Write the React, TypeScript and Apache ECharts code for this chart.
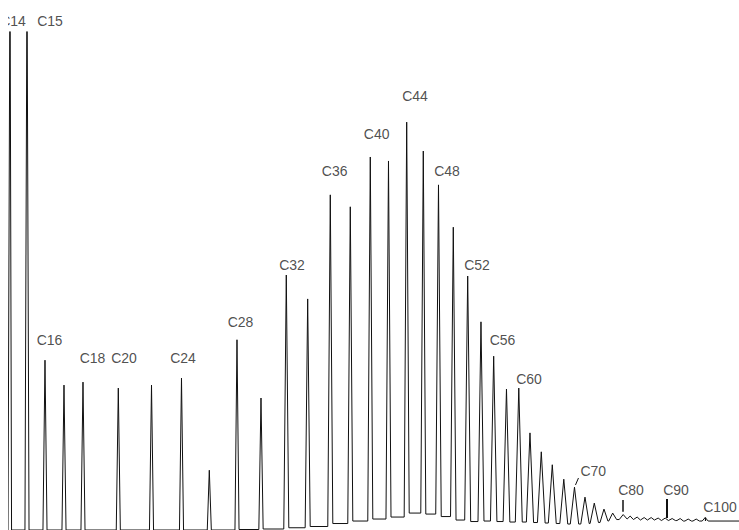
import React, { useEffect, useRef } from "react";
import * as echarts from "echarts";

// Retention time (min), detector signal (arbitrary units) for each peak apex
const peakNames = [
  "C14", "C15", "C16", "C17", "C18", "C20", "C22", "C24", "C26", "C28",
  "C30", "C32", "C34", "C36", "C38", "C40", "C42", "C44", "C46", "C48",
  "C50", "C52", "C54", "C56", "C58", "C60", "C62", "C64", "C66", "C68",
  "C70", "C72", "C74", "C76", "C78", "C80",
  "C82", "C84", "C86", "C88", "C90", "C92", "C94", "C96", "C98", "C99", "C100",
];
const peakTimes = [
  0.167, 1.585, 3.087, 4.673, 6.258, 9.204, 11.975, 14.478, 16.798, 19.109,
  21.112, 23.223, 25.008, 26.894, 28.563, 30.232, 31.751, 33.27, 34.655, 35.923,
  37.158, 38.36, 39.469, 40.529, 41.597, 42.624, 43.558, 44.501, 45.419, 46.379,
  47.272, 48.148, 48.924, 49.733, 50.459, 51.335,
  51.919, 52.503, 53.088, 53.672, 54.256, 54.84, 55.424, 56.092, 56.759, 57.427, 58.178,
];
const peakHeights = [
  115, 112, 34.1, 29.1, 29.7, 28.5, 29.1, 30.5, 12.0, 38.2,
  26.5, 51.2, 46.4, 67.3, 64.9, 74.9, 74.1, 81.9, 76.1, 69.3,
  60.8, 51.0, 41.8, 34.9, 28.3, 28.5, 19.5, 15.7, 13.1, 10.2,
  8.6, 6.6, 5.4, 4.2, 3.4, 3.1,
  2.8, 2.6, 2.5, 2.5, 2.4, 2.4, 2.3, 2.3, 2.2, 2.2, 2.5,
];
const peakHalfWidths = [
  0.13, 0.17, 0.17, 0.17, 0.17, 0.17, 0.17, 0.17, 0.17, 0.17,
  0.18, 0.21, 0.21, 0.21, 0.21, 0.21, 0.21, 0.21, 0.21, 0.23,
  0.23, 0.25, 0.25, 0.27, 0.28, 0.29, 0.3, 0.32, 0.33, 0.33,
  0.35, 0.35, 0.35, 0.33, 0.33, 0.33,
  0.27, 0.27, 0.27, 0.27, 0.27, 0.27, 0.27, 0.27, 0.27, 0.27, 0.25,
];
// baseline level reached after each peak (valley before the next one)
const valleyLevels = [
  0, 0, 0, 0, 0, 0, 0, 0, 0, 0.1,
  0.2, 0.45, 0.7, 1.3, 1.8, 2.2, 2.6, 3.4, 3.2, 2.7,
  2.0, 1.7, 1.8, 1.7, 1.6, 1.6, 1.5, 1.4, 1.3, 1.2,
  1.2, 1.3, 1.5, 1.8, 2.1, 2.2,
  2.1, 2.0, 2.0, 2.0, 1.9, 1.9, 1.9, 1.8, 1.8, 1.8, 1.8,
];
const startLevel = 0;
const runEnd = 61;

// Peak annotations
const labelNames = ["C14", "C15", "C16", "C18", "C20", "C24", "C28", "C32", "C36", "C40", "C44", "C48", "C52", "C56", "C60", "C70", "C80", "C90", "C100"];
const labelTimes = [0.417, 3.505, 3.463, 7.051, 9.68, 14.603, 19.401, 23.698, 27.261, 30.766, 33.962, 36.632, 39.136, 41.263, 43.475, 48.84, 51.986, 55.741, 59.413];
const labelLevels = [102.2, 102.2, 38.15, 34.54, 34.54, 34.54, 41.83, 53.21, 72.15, 79.52, 87.15, 72.09, 53.31, 38.21, 30.32, 11.85, 8.03, 8.03, 4.52];

// Leader lines / markers: [t1, v1, t2, v2, width]
const leaderStart = [[1.978, 99.74], [47.355, 9.04], [51.318, 6.02], [54.99, 6.22], [58.161, 2.51]];
const leaderEnd = [[2.395, 100.54], [47.605, 10.44], [51.318, 3.67], [54.99, 2.41], [58.161, 1.81]];
const leaderWidths = [1, 1, 1.5, 2, 1.2];

export default function App() {
  const ref = useRef<HTMLDivElement>(null);
  useEffect(() => {
    const chart = echarts.init(ref.current!, null, { renderer: "svg" });
    const pts: number[][] = [[0, startLevel]];
    let prev = startLevel;
    for (let i = 0; i < peakTimes.length; i++) {
      const t = peakTimes[i];
      const hw = peakHalfWidths[i];
      pts.push([t - hw, prev], [t, peakHeights[i]], [t + hw, valleyLevels[i]]);
      prev = valleyLevels[i];
    }
    pts.push([runEnd, prev]);

    chart.setOption({
      animation: false,
      grid: { left: 0, right: 0, top: 32, bottom: 0 },
      xAxis: { type: "value", min: 0, max: runEnd, show: false },
      yAxis: { type: "value", min: 0, max: 100, show: false },
      series: [
        {
          type: "line",
          data: pts,
          showSymbol: false,
          symbol: "none",
          clip: true,
          lineStyle: { color: "#111", width: 1 },
          silent: true,
        },
        {
          type: "scatter",
          clip: false,
          symbolSize: 0,
          silent: true,
          data: labelNames.map((n, i) => ({ name: n, value: [labelTimes[i], labelLevels[i]] })),
          label: {
            show: true,
            position: "inside",
            formatter: "{b}",
            color: "#222",
            fontSize: 14,
            fontFamily: "Liberation Sans, Arial, sans-serif",
            align: "center",
            verticalAlign: "middle",
          },
          markLine: {
            silent: true,
            symbol: ["none", "none"],
            label: { show: false },
            lineStyle: { color: "#111", type: "solid", width: 1 },
            data: leaderStart.map((s, i) => [
              { coord: s, lineStyle: { color: "#111", type: "solid", width: leaderWidths[i] } },
              { coord: leaderEnd[i] },
            ]),
          },
        },
      ],
    });
    return () => chart.dispose();
  }, []);
  return (
    <div
      ref={ref}
      style={{ position: "absolute", left: 8, top: 0, width: 731, height: 530 }}
    />
  );
}
